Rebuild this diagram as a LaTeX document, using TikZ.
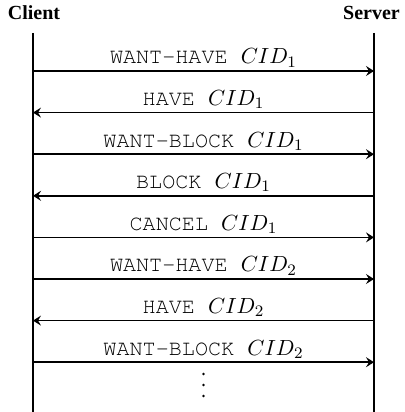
\documentclass[tikz,border=0pt]{standalone}
\usepackage{fontspec}
\setmainfont{Liberation Serif}
\usetikzlibrary{arrows.meta}

\newcommand{\courfont}{\fontencoding{T1}\fontfamily{pcr}\fontsize{10.9}{13}\selectfont}

\tikzset{
	lifeline/.style={line width=1pt},
	message/.style={thick,>={Stealth[length=4pt,width=5pt,inset=1.5pt]}},
	msglabel/.style={above,inner sep=1.5pt,font=\courfont},
	head/.style={anchor=base,font=\bfseries},
	dot/.style={fill,circle,inner sep=0pt,minimum size=1.4pt}
}

\begin{document}
\begin{tikzpicture}[x=0.5pt,y=0.5pt]
		\useasboundingbox (0,0) rectangle (404,412);

		\node[head] (client) at (34,392) {Client};
		\node[head] (server) at (371.5,392) {Server};

		\coordinate (ctop) at (33,379);
		\coordinate (cbot) at (33,0);
		\coordinate (stop) at (374,379);
		\coordinate (sbot) at (374,0);
		\draw[lifeline] (ctop) -- (cbot);
		\draw[lifeline] (stop) -- (sbot);

		\foreach \i\tip\msg in {0/->/WANT-HAVE $CID_1$, 1/<-/HAVE $CID_1$, 2/->/WANT-BLOCK $CID_1$, 3/<-/BLOCK $CID_1$, 4/->/CANCEL $CID_1$, 5/->/WANT-HAVE $CID_2$, 6/<-/HAVE $CID_2$, 7/->/WANT-BLOCK $CID_2$}
		{
			\coordinate (c\i) at (33,{341-41.6*\i});
			\coordinate (s\i) at (374,{341-41.6*\i});
			\draw[message,\tip] (c\i) -- node[msglabel] (m\i) {\msg} (s\i);
		}

		\foreach \j\y in {1/38, 2/27, 3/16}
		{
			\node[dot] (dot\j) at (203.5,\y) {};
		}
	\end{tikzpicture}
\end{document}
